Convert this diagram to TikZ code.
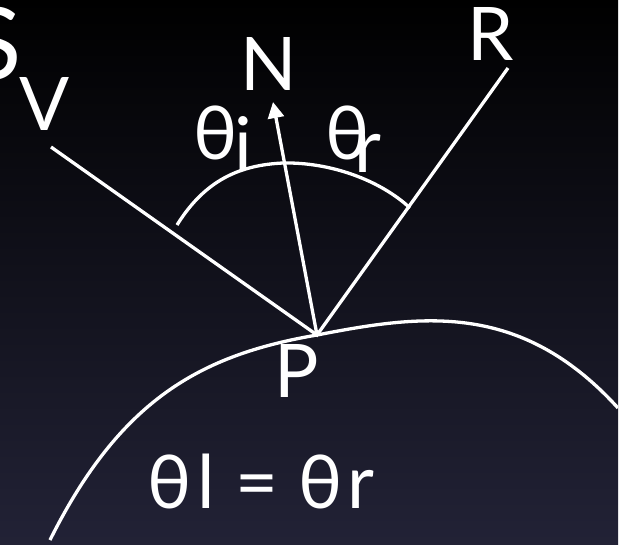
\documentclass[tikz,border=0pt]{standalone}
\usepackage{fontspec}
\setmainfont{Lato}
\usepackage{tikz}
\usetikzlibrary{arrows.meta}
\definecolor{bgmid}{RGB}{6,6,28}
\definecolor{bgbot}{RGB}{34,34,54}
\tikzset{
  lbl/.style={text=white,inner sep=0pt,anchor=base,font=\fontsize{74}{80}\selectfont},
  ray/.style={white,line width=3.3pt},
}

\begin{document}
\begin{tikzpicture}[x=1pt,y=-1pt,>={Triangle[length=16pt,width=16pt]}]
  \useasboundingbox (0,0) rectangle (629,544);
  \fill[white] (0,0) rectangle (629,544);
  \begin{scope}
    \clip (0,0) rectangle (618,544);
    \shade[top color=black,middle color=bgmid,bottom color=bgbot] (0,0) rectangle (618,544);

    \coordinate (P) at (317,335);
    \coordinate (Vend) at (51,147);
    \coordinate (Rend) at (508,68);
    \coordinate (Ntip) at (273,102);

    % rays
    \draw[ray] (Vend) -- (P) -- (Rend);
    \draw[ray,->] (P) -- (Ntip);

    % angle arc
    \draw[ray] (177,225) .. controls (205,180) and (240,165) .. (283,163)
      .. controls (330,162) and (380,180) .. (410,208);

    % surface
    \draw[ray] (50,540) .. controls (120,400) and (200,355) .. (P)
      .. controls (420,315) and (520,300) .. (618,408);

    % labels
    \node[lbl] (S) at (-5,79) {\fontsize{100}{100}\selectfont S};
    \node[lbl] (V) at (44.5,130) {V};
    \node[lbl] (N) at (269,90) {N};
    \node[lbl] (R) at (491,60) {R};
    \node[lbl] (Plbl) at (297,397) {P};
    \node[lbl] (thi) at (216,159) {θ};
    \node[lbl] (i) at (243,170) {i};
    \node[lbl] (thr) at (348,159) {θ};
    \node[lbl] (r) at (368,172) {r};
    \node[lbl] (eq) at (261,508) {θ\kern6pt l\hspace{20pt}=\hspace{20pt}θ\kern5pt r};
  \end{scope}
\end{tikzpicture}
\end{document}
